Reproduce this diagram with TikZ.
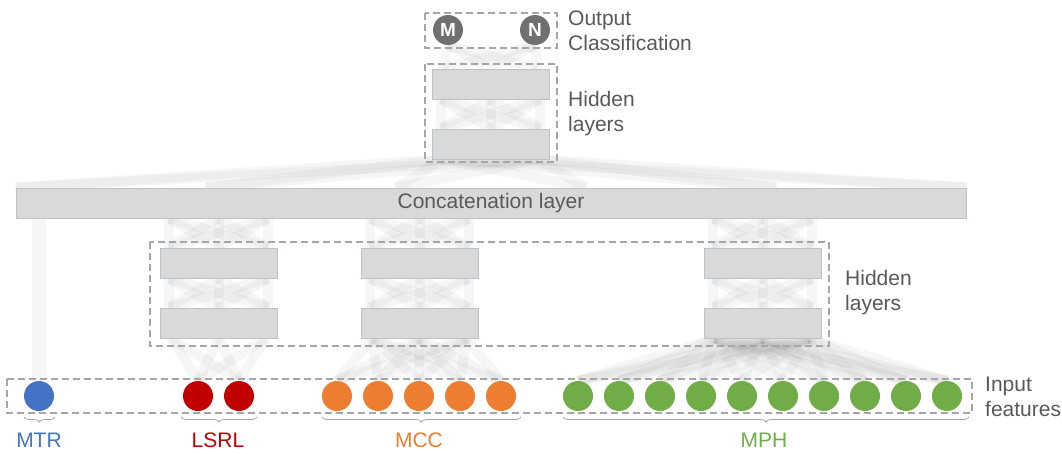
\documentclass[tikz,border=0pt]{standalone}
\usepackage{fontspec}
\setmainfont{Liberation Sans}
\usetikzlibrary{calc,backgrounds,decorations.pathreplacing}
\definecolor{txtgray}{HTML}{595959}
\definecolor{layfill}{HTML}{D9D9D9}
\definecolor{laygray}{HTML}{BCC2CC}
\definecolor{grpgray}{HTML}{A6A6A6}
\definecolor{outgray}{HTML}{707070}
\definecolor{mtrblue}{HTML}{4472C4}
\definecolor{lsrlred}{HTML}{C00000}
\definecolor{mccorange}{HTML}{ED7D31}
\definecolor{mphgreen}{HTML}{70AD47}

\begin{document}
\begin{tikzpicture}[x=1pt,y=-1pt,font=\fontsize{21}{25}\selectfont,text=txtgray,
 layer/.style={draw=laygray,fill=layfill,line width=.8pt,minimum width=117,minimum height=30,inner sep=0},
 unit/.style={circle,minimum size=30,inner sep=0},
 outunit/.style={unit,fill=outgray,text=white,font=\fontsize{19}{22}\selectfont\bfseries},
 grp/.style={draw=grpgray,line width=1.2pt,dash pattern=on 7pt off 4pt},
 link/.style={draw=black,opacity=.035,line width=10pt},
 brc/.style={draw=grpgray,line width=.8pt,decorate,decoration={brace,mirror,amplitude=5pt}},
 lbl/.style={anchor=west,align=left,inner sep=0}]
 \useasboundingbox (0,0) rectangle (1062,453);
 % output
 \node[outunit] (m) at (448,30) {M};
 \node[outunit] (n) at (535,30) {N};
 \node[lbl] (outlbl) at (568,31) {Output\\Classification};
 % top hidden layers
 \node[layer] (t1) at (490.5,84) {};
 \node[layer] (t2) at (490.5,144) {};
 \node[lbl] (toplbl) at (568,114) {Hidden\\layers};
 \node[layer,minimum width=950] (cat) at (491,203) {Concatenation layer};
 % branch hidden layers
 \node[layer] (a1) at (218.5,263) {};\node[layer] (a2) at (218.5,323) {};
 \node[layer] (b1) at (419.5,263) {};\node[layer] (b2) at (419.5,323) {};
 \node[layer] (c1) at (762.5,263) {};\node[layer] (c2) at (762.5,323) {};
 \node[lbl] (midlbl) at (845,293) {Hidden\\layers};
 % inputs
 \node[unit,fill=mtrblue] (mtr) at (39,396) {};
 \foreach \i/\x in {1/198,2/239} \node[unit,fill=lsrlred] (l\i) at (\x,396) {};
 \foreach \i in {1,...,5} \node[unit,fill=mccorange] (o\i) at ({296+41*\i},396) {};
 \foreach \i in {1,...,10} \node[unit,fill=mphgreen] (g\i) at ({537+41*\i},396) {};
 \node[lbl] (inlbl) at (985,397) {Input\\features};
 % groups
 \draw[grp] (425,13) rectangle (557,48);
 \draw[grp] (425,64) rectangle (557,162);
 \draw[grp] (150,242) rectangle (829,346);
 \draw[grp] (7,379) rectangle (972,413);
 % braces
 \draw[brc] (24,417) -- (55,417);\node[text=mtrblue] (mtrtxt) at (39,440) {MTR};
 \draw[brc] (181,417) -- (257,417);\node[text=lsrlred] (lsrltxt) at (218,440) {LSRL};
 \draw[brc] (322,417) -- (521,417);\node[text=mccorange] (mcctxt) at (419,440) {MCC};
 \draw[brc] (563,417) -- (969,417);\node[text=mphgreen] (mphtxt) at (764,440) {MPH};
 % connections
 \begin{scope}[on background layer]
  \foreach \u in {l1,l2} \foreach \s in {.1,.5,.9} \draw[link] (\u.north) -- ($(a2.south west)!\s!(a2.south east)$);
  \foreach \u in {o1,o2,o3,o4,o5} \foreach \s in {.1,.5,.9} \draw[link] (\u.north) -- ($(b2.south west)!\s!(b2.south east)$);
  \foreach \u in {g1,g2,g3,g4,g5,g6,g7,g8,g9,g10} \foreach \s in {.1,.5,.9} \draw[link] (\u.north) -- ($(c2.south west)!\s!(c2.south east)$);
  \foreach \h in {a,b,c,t} \foreach \s in {.08,.5,.92} \foreach \r in {.08,.5,.92}
   \draw[link] ($(\h2.north west)!\s!(\h2.north east)$) -- ($(\h1.south west)!\r!(\h1.south east)$);
  \foreach \h in {a,b,c} {
   \path (\h1.north west |- cat.south) coordinate (up\h l) (\h1.north east |- cat.south) coordinate (up\h r);
   \foreach \s in {.08,.5,.92} \foreach \r in {.08,.5,.92}
    \draw[link] ($(\h1.north west)!\s!(\h1.north east)$) -- ($(up\h l)!\r!(up\h r)$);
  }
  \draw[link,line width=14pt] (mtr.north) -- (mtr.north |- cat.south);
  \foreach \s in {0,.2,.4,.6,.8,1} \foreach \r in {.1,.9}
   \draw[link] ($(cat.north west)!\s!(cat.north east)$) -- ($(t2.south west)!\r!(t2.south east)$);
  \foreach \o in {m,n} \foreach \s in {.1,.5,.9} \draw[link] ($(t1.north west)!\s!(t1.north east)$) -- (\o.south);
 \end{scope}
\end{tikzpicture}
\end{document}
